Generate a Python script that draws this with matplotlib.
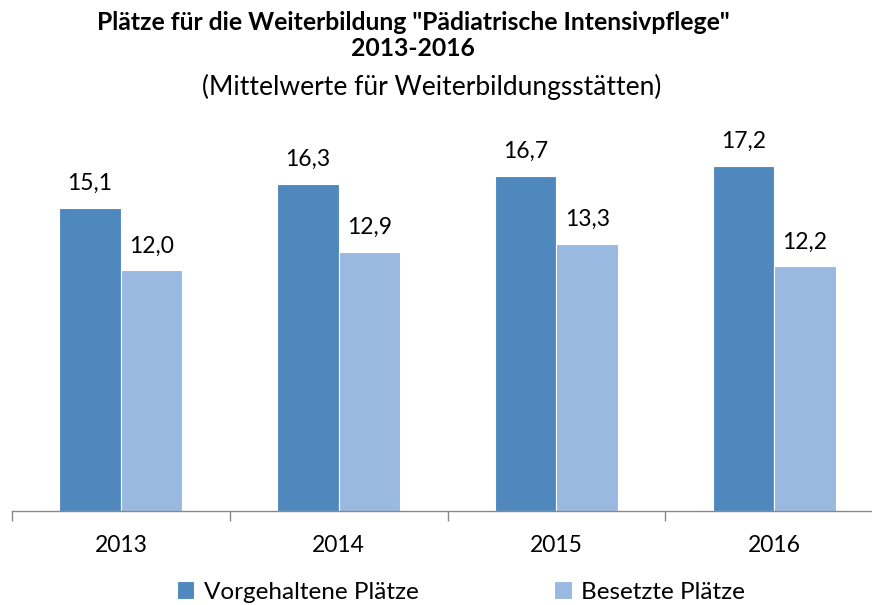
import numpy as np
import matplotlib.pyplot as plt

plt.rcParams['font.family'] = ['Lato', 'DejaVu Sans']

years = ["2013", "2014", "2015", "2016"]
vorgehalten = [15.1, 16.3, 16.7, 17.2]
besetzt = [12.0, 12.9, 13.3, 12.2]

c_dark = "#4F88BD"
c_light = "#99B9E0"

fig = plt.figure(figsize=(8.72, 6.05), dpi=100)
W, H = 872, 605
# axes: x from px 12 to 883, y from 511 (0) up to 110 (20)
ax = fig.add_axes([12 / W, (H - 511) / H, 871 / W, 401 / H])

x = np.arange(len(years))
bw = 0.283
b1 = ax.bar(x - bw / 2, vorgehalten, bw, color=c_dark, edgecolor="white", linewidth=0.8)
b2 = ax.bar(x + bw / 2, besetzt, bw, color=c_light, edgecolor="white", linewidth=0.8)

for rects, vals in ((b1, vorgehalten), (b2, besetzt)):
    for r, v in zip(rects, vals):
        ax.text(r.get_x() + r.get_width() / 2, v + 0.7, f"{v:.1f}".replace(".", ","),
                ha="center", va="bottom", fontsize=16.5)

ax.set_xlim(-0.5, 3.5)
ax.set_ylim(0, 20)
for s in ("top", "right", "left"):
    ax.spines[s].set_visible(False)
ax.spines["bottom"].set_color("#888888")
ax.spines["bottom"].set_linewidth(1.0)
ax.set_yticks([])
ax.set_xticks(np.arange(-0.5, 4, 1.0), minor=False)
ax.set_xticklabels([])
ax.tick_params(axis="x", length=7, color="#888888", width=1.0)
ax.set_xticks(x, minor=True)
ax.set_xticklabels(years, minor=True, fontsize=16.5)
ax.tick_params(axis="x", which="minor", length=0, pad=17)

fig.text(413 / W, 1 - 22 / H, 'Plätze für die Weiterbildung "Pädiatrische Intensivpflege"',
         ha="center", va="center", fontsize=17.8, fontweight="bold")
fig.text(413 / W, 1 - 49 / H, "2013-2016", ha="center", va="center",
         fontsize=17.8, fontweight="bold")
fig.text(432 / W, 1 - 87 / H, "(Mittelwerte für Weiterbildungsstätten)",
         ha="center", va="center", fontsize=19)

leg = fig.legend([b1, b2], ["Vorgehaltene Plätze", "Besetzte Plätze"],
                 loc="center", bbox_to_anchor=(461 / W, 1 - 592 / H), ncol=2,
                 frameon=False, fontsize=17.5, handlelength=0.7, handleheight=0.7,
                 handletextpad=0.4, columnspacing=5.6)

fig.savefig("out.png", dpi=100)
